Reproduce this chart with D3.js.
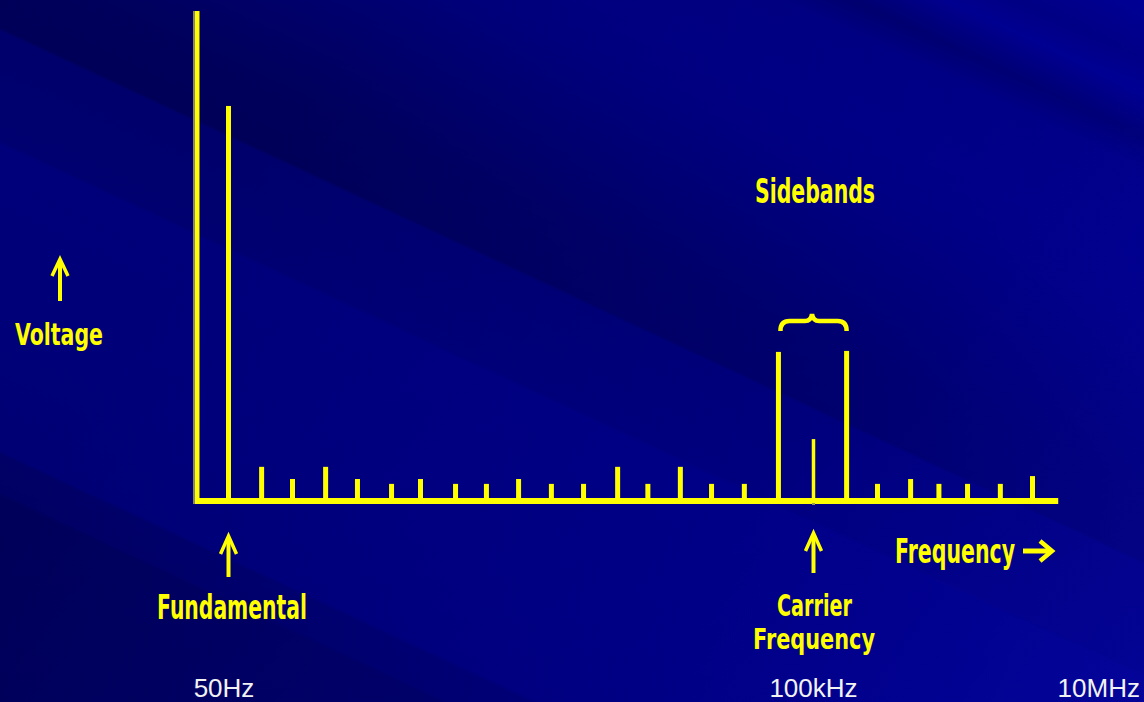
<!DOCTYPE html>
<html>
<head>
<meta charset="utf-8">
<script src="https://cdn.jsdelivr.net/npm/d3@7"></script>
<style>
  html, body { margin: 0; padding: 0; background: #000066; overflow: hidden; }
  svg { display: block; }
</style>
</head>
<body>
<div id="chart"></div>
<script>
// ---------- data ----------
// spectral lines: index, position along the frequency axis (in line-spacing units), voltage (relative units)
const lineIndex = d3.range(26);
const linePos = [0, 1.03, 1.99, 3.02, 4.01, 5.07, 5.97, 7.06, 8.02, 9.02, 10.04, 11.04, 12.10,
                 13.04, 14.05, 15.02, 16.04, 17.10, 18.19, 19.22, 20.18, 21.21, 22.09, 22.98, 24.0, 25.0];
const voltage = [80.5, 6.4, 3.9, 6.4, 3.9, 2.9, 3.9, 2.9, 2.9, 3.9, 2.9, 2.9, 6.4,
                 2.9, 6.4, 2.9, 2.9, 30.0, 12.1, 30.2, 2.9, 3.9, 2.9, 2.9, 2.9, 4.5];
const fundamentalIndex = 0;
const carrierIndex = 18;
const sidebandIndex = [17, 19];
// bottom frequency labels and where they sit on the axis
const tickLabels = ["50Hz", "100kHz", "10MHz"];
const tickPos = [-0.14, 18.19, 27.06];

// ---------- layout ----------
const W = 1144, H = 702;
const yellow = "#ffff00";
const svg = d3.select("#chart").append("svg").attr("width", W).attr("height", H);

const x = d3.scaleLinear().domain([0, 25]).range([228.5, 1032.5]);
const y = d3.scaleLinear().domain([0, 100]).range([498, 11]);

// ---------- background ----------
const defs = svg.append("defs");
const ang = 25 * Math.PI / 180;
const nx = -Math.sin(ang), ny = Math.cos(ang);
const s0 = -484, s1 = 636;
const g1 = defs.append("linearGradient").attr("id", "bands")
  .attr("gradientUnits", "userSpaceOnUse")
  .attr("x1", nx * s0).attr("y1", ny * s0).attr("x2", nx * s1).attr("y2", ny * s1);
const bandStops = [
  [-484, "#00008c"], [-430, "#000078"], [-400, "#000088"], [-360, "#000062"], [-330, "#00007a"],
  [-250, "#00007c"], [-200, "#000078"], [-120, "#00006a"], [-40, "#00005c"], [25, "#000058"],
  [28, "#00006c"], [127, "#000070"], [131, "#00007a"], [300, "#000078"], [408, "#000074"],
  [412, "#000066"], [446, "#000064"], [450, "#00005a"], [636, "#000058"]
];
bandStops.forEach(([s, c]) => g1.append("stop").attr("offset", (s - s0) / (s1 - s0)).attr("stop-color", c));
svg.append("rect").attr("width", W).attr("height", H).attr("fill", "url(#bands)");
const g2 = defs.append("linearGradient").attr("id", "glow")
  .attr("gradientUnits", "userSpaceOnUse")
  .attr("x1", 300).attr("y1", 100).attr("x2", 1144).attr("y2", 702);
g2.append("stop").attr("offset", 0).attr("stop-color", "#0000b0").attr("stop-opacity", 0);
g2.append("stop").attr("offset", 0.6).attr("stop-color", "#0000b0").attr("stop-opacity", 0.25);
g2.append("stop").attr("offset", 1).attr("stop-color", "#0808b4").attr("stop-opacity", 0.55);
svg.append("rect").attr("width", W).attr("height", H).attr("fill", "url(#glow)");

// ---------- axes ----------
const axisStart = -0.98, axisEnd = 25.8;
svg.append("rect").attr("x", x(axisStart) - 4).attr("y", y(100)).attr("width", 2)
  .attr("height", y(0) + 6 - y(100)).attr("fill", "#8a8a6a");
svg.append("rect").attr("x", x(axisStart) - 2).attr("y", y(100)).attr("width", 4.5)
  .attr("height", y(0) + 6 - y(100)).attr("fill", yellow);
svg.append("rect").attr("x", x(axisStart) - 2).attr("y", y(0)).attr("width", x(axisEnd) - x(axisStart) + 2)
  .attr("height", 6).attr("fill", yellow);

// ---------- spectral lines ----------
const lines = lineIndex.map(i => ({ i, pos: linePos[i], v: voltage[i] }));
svg.append("g").selectAll("rect.line").data(lines).join("rect")
  .attr("class", "line")
  .attr("x", d => x(d.pos) - (d.i === carrierIndex ? 1.75 : 2.5))
  .attr("width", d => d.i === carrierIndex ? 3.5 : 5)
  .attr("y", d => y(d.v))
  .attr("height", d => y(0) - y(d.v))
  .attr("fill", yellow);
svg.append("rect").attr("x", x(linePos[carrierIndex]) - 1.5).attr("y", y(0) + 5)
  .attr("width", 3).attr("height", 2).attr("fill", "#9a9a50");

// ---------- annotations ----------
const labelFont = "'DejaVu Sans', 'Liberation Sans', sans-serif";
function label(txt, xLeft, base, len, size) {
  return svg.append("text").attr("x", xLeft).attr("y", base)
    .attr("font-family", labelFont).attr("font-weight", "bold")
    .attr("font-size", size || 34).attr("fill", yellow)
    .attr("textLength", len).attr("lengthAdjust", "spacingAndGlyphs")
    .text(txt);
}
function upArrow(cx, top, headBottom, bottom, halfW) {
  svg.append("line").attr("x1", cx).attr("x2", cx).attr("y1", top + 4).attr("y2", bottom)
    .attr("stroke", yellow).attr("stroke-width", 4);
  svg.append("path")
    .attr("d", `M${cx - halfW},${headBottom} L${cx},${top} L${cx + halfW},${headBottom}`)
    .attr("fill", "none").attr("stroke", yellow).attr("stroke-width", 3.5)
    .attr("stroke-linejoin", "miter");
}

// Voltage
upArrow(60, 259, 276, 301, 8);
label("Voltage", 15, 345, 88, 31);

// Fundamental
const xf = x(linePos[fundamentalIndex]);
upArrow(xf, 536, 554, 577, 8);
label("Fundamental", xf - 71.5, 619, 150);

// Carrier frequency (two lines)
const xc = x(linePos[carrierIndex]);
upArrow(xc, 533, 551, 573, 8);
label("Carrier", xc - 36.5, 616, 75, 30);
label("Frequency", xc - 60.5, 649, 122, 28);

// Sidebands + brace
const xl = x(linePos[sidebandIndex[0]]), xr = x(linePos[sidebandIndex[1]]);
label("Sidebands", xc - 58.5, 203, 120);
const bl = xl + 2, br = xr, bm = (xl + xr) / 2 - 0.5;
svg.append("path")
  .attr("d", `M${bl},331 Q${bl},321 ${bl + 9},321 L${bm - 7},321 Q${bm - 1},321 ${bm},314 Q${bm + 1},321 ${bm + 7},321 L${br - 9},321 Q${br},321 ${br},331`)
  .attr("fill", "none").attr("stroke", yellow).attr("stroke-width", 4.5);

// Frequency ->
label("Frequency", 895, 563, 120);
svg.append("line").attr("x1", 1023).attr("x2", 1050).attr("y1", 551).attr("y2", 551)
  .attr("stroke", yellow).attr("stroke-width", 5);
svg.append("path").attr("d", "M1040,541 L1052,551 L1040,561")
  .attr("fill", "none").attr("stroke", yellow).attr("stroke-width", 4.5);

// ---------- bottom frequency labels ----------
svg.append("g").selectAll("text.tick").data(tickLabels).join("text")
  .attr("class", "tick")
  .attr("x", (d, i) => x(tickPos[i]))
  .attr("y", 697)
  .attr("text-anchor", "middle")
  .attr("font-family", "'Liberation Sans', Arial, sans-serif")
  .attr("font-size", 26)
  .attr("fill", "#f2f2f2")
  .text(d => d);
</script>
</body>
</html>
